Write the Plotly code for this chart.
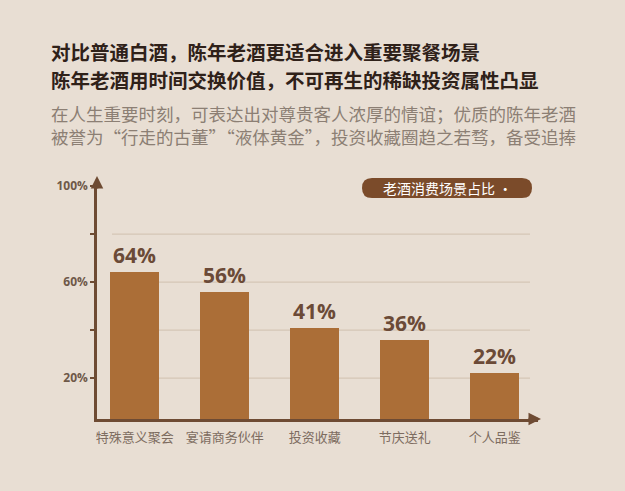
import plotly.graph_objects as go

categories = ["特殊意义聚会", "宴请商务伙伴", "投资收藏", "节庆送礼", "个人品鉴"]
values = [64, 56, 41, 36, 22]
ytick_vals = [20, 60, 100]
ytick_text = ["20%", "60%", "100%"]
grid_vals = [20, 40, 60, 80]

title_lines = ["对比普通白酒，陈年老酒更适合进入重要聚餐场景",
               "陈年老酒用时间交换价值，不可再生的稀缺投资属性凸显"]
sub_lines = ["在人生重要时刻，可表达出对尊贵客人浓厚的情谊；优质的陈年老酒",
             "被誉为“行走的古董”“液体黄金”，投资收藏圈趋之若骛，备受追捧"]
badge_text = "老酒消费场景占比 ·"

W, H = 625, 491
L, R, T, B = 97, 538, 186, 419
AX = "#6e4b33"
CJK = "Noto Sans CJK SC"


def px(x):
    return (x - L) / (R - L)


def py(y):
    return (B - y) / (B - T)


fig = go.Figure()
fig.add_trace(go.Bar(
    x=categories, y=values, width=0.545,
    marker=dict(color="#ab6e37", line=dict(width=0)),
    text=[f"{v}%" for v in values], textposition="outside",
    textfont=dict(family="Open Sans", size=21, color="#6b4a37", weight="bold"),
    cliponaxis=False, hoverinfo="skip",
))

shapes = []
for g in grid_vals:
    shapes.append(dict(type="line", xref="paper", yref="y", x0=px(112), x1=px(530),
                       y0=g, y1=g, line=dict(color="#d5c6b6", width=1.2), layer="below"))

# badge (pill)
x0, x1, y0, y1 = px(362), px(532), py(198), py(178)
rx, ry = 10 / (R - L), 10 / (B - T)
path = (f"M {x0+rx},{y0} L {x1-rx},{y0} Q {x1},{y0} {x1},{y0+ry} "
        f"Q {x1},{y1} {x1-rx},{y1} L {x0+rx},{y1} Q {x0},{y1} {x0},{y0+ry} "
        f"Q {x0},{y0} {x0+rx},{y0} Z")
shapes.append(dict(type="path", xref="paper", yref="paper", path=path,
                   fillcolor="#7b4b2a", line=dict(width=0)))

ann = []
for t, yy in zip(title_lines, [51, 79]):
    ann.append(dict(text=t, xref="paper", yref="paper", x=px(49), y=py(yy),
                    xanchor="left", yanchor="middle", showarrow=False,
                    font=dict(family=CJK, size=19.5, color="#2f2119", weight="bold")))
ann.append(dict(text="<br>".join(sub_lines), xref="paper", yref="paper", x=px(49), y=py(124.5),
                xanchor="left", yanchor="middle", align="left", showarrow=False,
                font=dict(family=CJK, size=17.5, color="#8c7f74")))
ann.append(dict(text=badge_text, xref="paper", yref="paper", x=px(447), y=py(188),
                xanchor="center", yanchor="middle", showarrow=False,
                font=dict(family=CJK, size=14, color="#ffffff")))
# axis arrows
ann.append(dict(text="", xref="paper", yref="paper", x=0, y=py(176), ax=0, ay=14,
                showarrow=True, arrowhead=2, arrowsize=1, arrowwidth=2.5, arrowcolor=AX))
ann.append(dict(text="", xref="paper", yref="paper", x=px(541), y=0, ax=-14, ay=0,
                showarrow=True, arrowhead=2, arrowsize=1, arrowwidth=2.5, arrowcolor=AX))

fig.update_layout(
    width=W, height=H,
    margin=dict(l=L, r=W - R, t=T, b=H - B),
    paper_bgcolor="#e8ded3", plot_bgcolor="rgba(0,0,0,0)",
    showlegend=False, bargap=0,
    shapes=shapes, annotations=ann,
    xaxis=dict(range=[-0.42, 4.48], showgrid=False, showline=True, linecolor=AX,
               linewidth=2.5, ticks="", ticklabelstandoff=5,
               tickfont=dict(family=CJK, size=13, color="#7d6c60"),
               fixedrange=True, zeroline=False),
    yaxis=dict(range=[3, 100], showgrid=False, showline=True, linecolor=AX, linewidth=2.5,
               tickvals=ytick_vals, ticktext=ytick_text, ticks="outside", ticklen=4,
               tickcolor=AX, tickwidth=1.5,
               minor=dict(tickvals=grid_vals, ticks="outside", ticklen=4, tickcolor=AX),
               tickfont=dict(family="Open Sans", size=12, color="#6e5848", weight="bold"),
               zeroline=False, fixedrange=True),
)

fig.write_html("out.html", config={"displayModeBar": False},
               post_script="document.body.style.margin='0';document.body.style.background='#e8ded3';")
